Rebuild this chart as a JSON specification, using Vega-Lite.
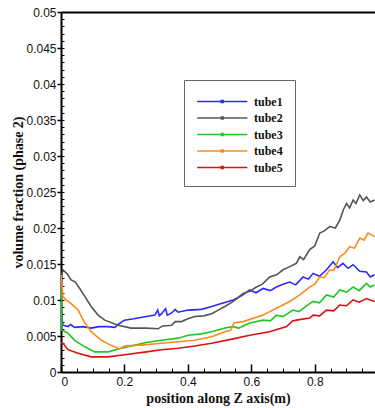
{
  "$schema": "https://vega.github.io/schema/vega-lite/v6.json",
  "autosize": {"type": "none"},
  "width": 314,
  "height": 360,
  "padding": {"left": 61, "top": 12, "right": 0, "bottom": 36},
  "background": "white",
  "view": {"stroke": null},
  "config": {
    "axis": {"labelFont": "Liberation Sans Narrow, Liberation Sans", "labelFontSize": 12, "labelColor": "#111", "titleFont": "Liberation Serif", "titleFontWeight": "bold", "titleFontSize": 14, "titleColor": "#111", "domainColor": "#000", "tickColor": "#000", "grid": false}
  },
  "data": {"values": [
    {"s": "tube1", "x": 0.0, "y": 0.0085}, {"s": "tube1", "x": 0.006, "y": 0.0065}, {"s": "tube1", "x": 0.022, "y": 0.0063}, {"s": "tube1", "x": 0.03, "y": 0.0066}, {"s": "tube1", "x": 0.043, "y": 0.0062}, {"s": "tube1", "x": 0.07, "y": 0.0063}, {"s": "tube1", "x": 0.095, "y": 0.0061}, {"s": "tube1", "x": 0.12, "y": 0.0063}, {"s": "tube1", "x": 0.148, "y": 0.0063}, {"s": "tube1", "x": 0.17, "y": 0.0062}, {"s": "tube1", "x": 0.18, "y": 0.0066}, {"s": "tube1", "x": 0.2, "y": 0.0072}, {"s": "tube1", "x": 0.23, "y": 0.0074}, {"s": "tube1", "x": 0.269, "y": 0.0077}, {"s": "tube1", "x": 0.296, "y": 0.0079}, {"s": "tube1", "x": 0.305, "y": 0.0086}, {"s": "tube1", "x": 0.31, "y": 0.0078}, {"s": "tube1", "x": 0.317, "y": 0.0081}, {"s": "tube1", "x": 0.33, "y": 0.0088}, {"s": "tube1", "x": 0.335, "y": 0.0079}, {"s": "tube1", "x": 0.349, "y": 0.0082}, {"s": "tube1", "x": 0.36, "y": 0.0087}, {"s": "tube1", "x": 0.369, "y": 0.0083}, {"s": "tube1", "x": 0.401, "y": 0.0086}, {"s": "tube1", "x": 0.443, "y": 0.0087}, {"s": "tube1", "x": 0.475, "y": 0.0091}, {"s": "tube1", "x": 0.506, "y": 0.0095}, {"s": "tube1", "x": 0.543, "y": 0.0100}, {"s": "tube1", "x": 0.57, "y": 0.0106}, {"s": "tube1", "x": 0.595, "y": 0.0114}, {"s": "tube1", "x": 0.615, "y": 0.0110}, {"s": "tube1", "x": 0.637, "y": 0.0116}, {"s": "tube1", "x": 0.66, "y": 0.0113}, {"s": "tube1", "x": 0.679, "y": 0.0118}, {"s": "tube1", "x": 0.7, "y": 0.0122}, {"s": "tube1", "x": 0.721, "y": 0.0125}, {"s": "tube1", "x": 0.74, "y": 0.0121}, {"s": "tube1", "x": 0.763, "y": 0.0132}, {"s": "tube1", "x": 0.78, "y": 0.0129}, {"s": "tube1", "x": 0.795, "y": 0.0137}, {"s": "tube1", "x": 0.815, "y": 0.0133}, {"s": "tube1", "x": 0.837, "y": 0.0142}, {"s": "tube1", "x": 0.858, "y": 0.0153}, {"s": "tube1", "x": 0.872, "y": 0.0145}, {"s": "tube1", "x": 0.889, "y": 0.0151}, {"s": "tube1", "x": 0.905, "y": 0.0144}, {"s": "tube1", "x": 0.921, "y": 0.0149}, {"s": "tube1", "x": 0.942, "y": 0.0140}, {"s": "tube1", "x": 0.963, "y": 0.0139}, {"s": "tube1", "x": 0.975, "y": 0.0132}, {"s": "tube1", "x": 0.989, "y": 0.0135},
    {"s": "tube2", "x": 0.0, "y": 0.0130}, {"s": "tube2", "x": 0.006, "y": 0.0142}, {"s": "tube2", "x": 0.02, "y": 0.0136}, {"s": "tube2", "x": 0.032, "y": 0.0128}, {"s": "tube2", "x": 0.045, "y": 0.0125}, {"s": "tube2", "x": 0.059, "y": 0.0116}, {"s": "tube2", "x": 0.075, "y": 0.0105}, {"s": "tube2", "x": 0.095, "y": 0.0091}, {"s": "tube2", "x": 0.117, "y": 0.0079}, {"s": "tube2", "x": 0.138, "y": 0.0072}, {"s": "tube2", "x": 0.18, "y": 0.0065}, {"s": "tube2", "x": 0.221, "y": 0.0061}, {"s": "tube2", "x": 0.269, "y": 0.0061}, {"s": "tube2", "x": 0.306, "y": 0.0060}, {"s": "tube2", "x": 0.32, "y": 0.0064}, {"s": "tube2", "x": 0.349, "y": 0.0065}, {"s": "tube2", "x": 0.36, "y": 0.0070}, {"s": "tube2", "x": 0.38, "y": 0.0070}, {"s": "tube2", "x": 0.4, "y": 0.0074}, {"s": "tube2", "x": 0.422, "y": 0.0077}, {"s": "tube2", "x": 0.45, "y": 0.0078}, {"s": "tube2", "x": 0.475, "y": 0.0081}, {"s": "tube2", "x": 0.5, "y": 0.0087}, {"s": "tube2", "x": 0.517, "y": 0.0091}, {"s": "tube2", "x": 0.543, "y": 0.0098}, {"s": "tube2", "x": 0.574, "y": 0.0109}, {"s": "tube2", "x": 0.595, "y": 0.0112}, {"s": "tube2", "x": 0.616, "y": 0.0118}, {"s": "tube2", "x": 0.635, "y": 0.0122}, {"s": "tube2", "x": 0.658, "y": 0.0132}, {"s": "tube2", "x": 0.68, "y": 0.0135}, {"s": "tube2", "x": 0.70, "y": 0.0142}, {"s": "tube2", "x": 0.72, "y": 0.0146}, {"s": "tube2", "x": 0.742, "y": 0.0151}, {"s": "tube2", "x": 0.753, "y": 0.0160}, {"s": "tube2", "x": 0.765, "y": 0.0156}, {"s": "tube2", "x": 0.784, "y": 0.0170}, {"s": "tube2", "x": 0.8, "y": 0.0175}, {"s": "tube2", "x": 0.816, "y": 0.0193}, {"s": "tube2", "x": 0.83, "y": 0.0196}, {"s": "tube2", "x": 0.847, "y": 0.0202}, {"s": "tube2", "x": 0.865, "y": 0.0200}, {"s": "tube2", "x": 0.879, "y": 0.0211}, {"s": "tube2", "x": 0.89, "y": 0.0225}, {"s": "tube2", "x": 0.90, "y": 0.0234}, {"s": "tube2", "x": 0.91, "y": 0.0228}, {"s": "tube2", "x": 0.921, "y": 0.0239}, {"s": "tube2", "x": 0.93, "y": 0.0234}, {"s": "tube2", "x": 0.942, "y": 0.0246}, {"s": "tube2", "x": 0.953, "y": 0.0238}, {"s": "tube2", "x": 0.963, "y": 0.0243}, {"s": "tube2", "x": 0.975, "y": 0.0236}, {"s": "tube2", "x": 0.989, "y": 0.0239},
    {"s": "tube3", "x": 0.0, "y": 0.0120}, {"s": "tube3", "x": 0.003, "y": 0.0058}, {"s": "tube3", "x": 0.022, "y": 0.0054}, {"s": "tube3", "x": 0.043, "y": 0.0044}, {"s": "tube3", "x": 0.075, "y": 0.0035}, {"s": "tube3", "x": 0.106, "y": 0.0028}, {"s": "tube3", "x": 0.148, "y": 0.0028}, {"s": "tube3", "x": 0.19, "y": 0.0033}, {"s": "tube3", "x": 0.23, "y": 0.0037}, {"s": "tube3", "x": 0.269, "y": 0.0041}, {"s": "tube3", "x": 0.317, "y": 0.0044}, {"s": "tube3", "x": 0.369, "y": 0.0047}, {"s": "tube3", "x": 0.401, "y": 0.0051}, {"s": "tube3", "x": 0.443, "y": 0.0053}, {"s": "tube3", "x": 0.475, "y": 0.0056}, {"s": "tube3", "x": 0.517, "y": 0.0061}, {"s": "tube3", "x": 0.543, "y": 0.0063}, {"s": "tube3", "x": 0.56, "y": 0.0061}, {"s": "tube3", "x": 0.595, "y": 0.0068}, {"s": "tube3", "x": 0.637, "y": 0.0072}, {"s": "tube3", "x": 0.66, "y": 0.0071}, {"s": "tube3", "x": 0.679, "y": 0.0079}, {"s": "tube3", "x": 0.7, "y": 0.0077}, {"s": "tube3", "x": 0.731, "y": 0.0086}, {"s": "tube3", "x": 0.75, "y": 0.0084}, {"s": "tube3", "x": 0.784, "y": 0.0095}, {"s": "tube3", "x": 0.795, "y": 0.0098}, {"s": "tube3", "x": 0.815, "y": 0.0096}, {"s": "tube3", "x": 0.837, "y": 0.0107}, {"s": "tube3", "x": 0.86, "y": 0.0104}, {"s": "tube3", "x": 0.879, "y": 0.0114}, {"s": "tube3", "x": 0.9, "y": 0.0111}, {"s": "tube3", "x": 0.921, "y": 0.0118}, {"s": "tube3", "x": 0.94, "y": 0.0113}, {"s": "tube3", "x": 0.963, "y": 0.0123}, {"s": "tube3", "x": 0.975, "y": 0.0118}, {"s": "tube3", "x": 0.989, "y": 0.0121},
    {"s": "tube4", "x": 0.0, "y": 0.0135}, {"s": "tube4", "x": 0.006, "y": 0.0105}, {"s": "tube4", "x": 0.016, "y": 0.0100}, {"s": "tube4", "x": 0.032, "y": 0.0095}, {"s": "tube4", "x": 0.054, "y": 0.0086}, {"s": "tube4", "x": 0.075, "y": 0.0068}, {"s": "tube4", "x": 0.095, "y": 0.0056}, {"s": "tube4", "x": 0.127, "y": 0.0044}, {"s": "tube4", "x": 0.158, "y": 0.0037}, {"s": "tube4", "x": 0.185, "y": 0.0032}, {"s": "tube4", "x": 0.2, "y": 0.0036}, {"s": "tube4", "x": 0.269, "y": 0.0038}, {"s": "tube4", "x": 0.317, "y": 0.0040}, {"s": "tube4", "x": 0.369, "y": 0.0042}, {"s": "tube4", "x": 0.422, "y": 0.0044}, {"s": "tube4", "x": 0.475, "y": 0.0049}, {"s": "tube4", "x": 0.517, "y": 0.0056}, {"s": "tube4", "x": 0.535, "y": 0.0058}, {"s": "tube4", "x": 0.545, "y": 0.0068}, {"s": "tube4", "x": 0.574, "y": 0.0070}, {"s": "tube4", "x": 0.637, "y": 0.0079}, {"s": "tube4", "x": 0.69, "y": 0.0091}, {"s": "tube4", "x": 0.721, "y": 0.0098}, {"s": "tube4", "x": 0.753, "y": 0.0107}, {"s": "tube4", "x": 0.784, "y": 0.0118}, {"s": "tube4", "x": 0.8, "y": 0.0122}, {"s": "tube4", "x": 0.816, "y": 0.0132}, {"s": "tube4", "x": 0.83, "y": 0.0131}, {"s": "tube4", "x": 0.847, "y": 0.0142}, {"s": "tube4", "x": 0.86, "y": 0.0141}, {"s": "tube4", "x": 0.879, "y": 0.0160}, {"s": "tube4", "x": 0.895, "y": 0.0165}, {"s": "tube4", "x": 0.91, "y": 0.0174}, {"s": "tube4", "x": 0.925, "y": 0.0172}, {"s": "tube4", "x": 0.942, "y": 0.0186}, {"s": "tube4", "x": 0.955, "y": 0.0183}, {"s": "tube4", "x": 0.968, "y": 0.0193}, {"s": "tube4", "x": 0.989, "y": 0.0188},
    {"s": "tube5", "x": 0.0, "y": 0.0040}, {"s": "tube5", "x": 0.006, "y": 0.0040}, {"s": "tube5", "x": 0.022, "y": 0.0031}, {"s": "tube5", "x": 0.054, "y": 0.0026}, {"s": "tube5", "x": 0.095, "y": 0.0021}, {"s": "tube5", "x": 0.148, "y": 0.0021}, {"s": "tube5", "x": 0.2, "y": 0.0024}, {"s": "tube5", "x": 0.269, "y": 0.0028}, {"s": "tube5", "x": 0.317, "y": 0.0031}, {"s": "tube5", "x": 0.369, "y": 0.0033}, {"s": "tube5", "x": 0.422, "y": 0.0036}, {"s": "tube5", "x": 0.475, "y": 0.0040}, {"s": "tube5", "x": 0.543, "y": 0.0046}, {"s": "tube5", "x": 0.595, "y": 0.0051}, {"s": "tube5", "x": 0.658, "y": 0.0056}, {"s": "tube5", "x": 0.711, "y": 0.0063}, {"s": "tube5", "x": 0.73, "y": 0.0071}, {"s": "tube5", "x": 0.742, "y": 0.0072}, {"s": "tube5", "x": 0.784, "y": 0.0075}, {"s": "tube5", "x": 0.795, "y": 0.0079}, {"s": "tube5", "x": 0.815, "y": 0.0078}, {"s": "tube5", "x": 0.837, "y": 0.0086}, {"s": "tube5", "x": 0.86, "y": 0.0085}, {"s": "tube5", "x": 0.879, "y": 0.0093}, {"s": "tube5", "x": 0.9, "y": 0.0092}, {"s": "tube5", "x": 0.921, "y": 0.0100}, {"s": "tube5", "x": 0.94, "y": 0.0097}, {"s": "tube5", "x": 0.963, "y": 0.0102}, {"s": "tube5", "x": 0.989, "y": 0.0098}
  ]},
  "layer": [
    {
      "mark": {"type": "line", "strokeWidth": 1.6, "clip": true},
      "encoding": {
        "x": {"field": "x", "type": "quantitative", "scale": {"domain": [0, 0.99], "nice": false, "zero": false},
          "axis": {"orient": "bottom", "values": [0, 0.2, 0.4, 0.6, 0.8], "format": "~g", "tickSize": -8, "tickWidth": 1.5, "domainWidth": 2, "labelPadding": 12, "title": "position along Z axis(m)", "titlePadding": 4}},
        "y": {"field": "y", "type": "quantitative", "scale": {"domain": [0, 0.05], "nice": false},
          "axis": {"orient": "left", "values": [0, 0.005, 0.01, 0.015, 0.02, 0.025, 0.03, 0.035, 0.04, 0.045, 0.05], "format": "~g", "tickSize": 4, "tickWidth": 1.5, "domainWidth": 2, "labelPadding": 1, "title": "volume fraction (phase 2)", "titlePadding": 0}},
        "color": {"field": "s", "type": "nominal", "scale": {"domain": ["tube1", "tube2", "tube3", "tube4", "tube5"], "range": ["#2a2aff", "#555555", "#1ec81e", "#ff8a1c", "#dc1010"]},
          "legend": {"orient": "none", "legendX": 123, "legendY": 68, "title": null, "symbolType": "M-1,0H5M1.88,-0.12H2.12V0.12H1.88Z", "symbolSize": 280, "symbolStrokeWidth": 1.3, "labelFont": "Liberation Serif", "labelFontWeight": "bold", "labelFontSize": 12, "labelColor": "#111", "labelOffset": 39, "rowPadding": 0.5, "padding": 12, "strokeColor": "#666", "fillColor": "white"}}
      }
    },
    {
      "mark": {"type": "point", "opacity": 0},
      "encoding": {
        "x": {"field": "x", "type": "quantitative", "axis": {"orient": "top", "labels": false, "ticks": false, "title": null, "domainWidth": 2}},
        "y": {"field": "y", "type": "quantitative", "axis": {"orient": "left", "values": [0.001, 0.002, 0.003, 0.004, 0.005, 0.006, 0.007, 0.008, 0.009, 0.01, 0.011, 0.012, 0.013, 0.014, 0.015, 0.016, 0.017, 0.018, 0.019, 0.02, 0.021, 0.022, 0.023, 0.024, 0.025, 0.026, 0.027, 0.028, 0.029, 0.03, 0.031, 0.032, 0.033, 0.034, 0.035, 0.036, 0.037, 0.038, 0.039, 0.04, 0.041, 0.042, 0.043, 0.044, 0.045, 0.046, 0.047, 0.048, 0.049], "labels": false, "domain": false, "title": null, "tickSize": -3, "tickWidth": 1}}
      }
    },
    {
      "mark": {"type": "point", "opacity": 0},
      "encoding": {
        "x": {"field": "x", "type": "quantitative", "axis": {"orient": "bottom", "values": [0.05, 0.1, 0.15, 0.25, 0.3, 0.35, 0.45, 0.5, 0.55, 0.65, 0.7, 0.75, 0.85, 0.9, 0.95], "labels": false, "domain": false, "title": null, "tickSize": -4, "tickWidth": 1}},
        "y": {"field": "y", "type": "quantitative", "axis": null}
      }
    }
  ],
  "resolve": {"axis": {"x": "independent", "y": "independent"}}
}
